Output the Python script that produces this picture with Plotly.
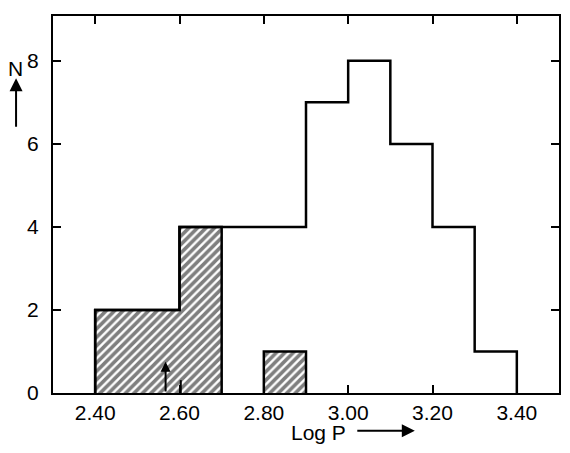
import plotly.graph_objects as go

# Data
bin_edges = [2.40, 2.50, 2.60, 2.70, 2.80, 2.90, 3.00, 3.10, 3.20, 3.30, 3.40]
total_counts = [2, 2, 4, 4, 4, 7, 8, 6, 4, 1]
hatched_counts = [2, 2, 4, 0, 1, 0, 0, 0, 0, 0]
x_ticks = [2.40, 2.60, 2.80, 3.00, 3.20, 3.40]
x_tick_labels = ["2.40", "2.60", "2.80", "3.00", "3.20", "3.40"]
y_ticks = [0, 2, 4, 6, 8]
marker_positions = [2.567, 2.603]
marker_heights = [0.75, 0.31]

font = "Liberation Sans Narrow, Liberation Sans, sans-serif"
centers = [(a + b) / 2 for a, b in zip(bin_edges[:-1], bin_edges[1:])]
width = bin_edges[1] - bin_edges[0]

fig = go.Figure()

# hatched bars (no outline; outline drawn as step line)
fig.add_trace(go.Bar(
    x=centers, y=hatched_counts, width=width,
    marker=dict(color="white", line=dict(width=0),
                pattern=dict(shape="/", fgcolor="black", bgcolor="white",
                             size=6, solidity=0.6)),
    showlegend=False, hoverinfo="skip"))


def step_outline(counts):
    """Outline of the non-zero runs of a histogram, separated by gaps."""
    xs, ys = [], []
    i = 0
    n = len(counts)
    while i < n:
        if counts[i] == 0:
            i += 1
            continue
        xs.append(bin_edges[i]); ys.append(0)
        while i < n and counts[i] != 0:
            xs += [bin_edges[i], bin_edges[i + 1]]
            ys += [counts[i], counts[i]]
            i += 1
        xs += [bin_edges[i], None]
        ys += [0, None]
    return xs, ys


for counts in (hatched_counts, total_counts):
    sx, sy = step_outline(counts)
    fig.add_trace(go.Scatter(x=sx, y=sy, mode="lines",
                             line=dict(color="black", width=2.5),
                             showlegend=False, hoverinfo="skip", cliponaxis=False))

# small markers inside the hatched region
fig.add_annotation(x=marker_positions[0], y=marker_heights[0], ax=marker_positions[0], ay=0,
                   xref="x", yref="y", axref="x", ayref="y", showarrow=True,
                   arrowhead=2, arrowsize=1, arrowwidth=2, arrowcolor="black", text="")
fig.add_shape(type="line", x0=marker_positions[1], x1=marker_positions[1], y0=0, y1=marker_heights[1],
              xref="x", yref="y", line=dict(color="black", width=2))

axis_common = dict(showline=True, linecolor="black", linewidth=2, mirror="ticks",
                   ticks="inside", ticklen=8, tickwidth=2, tickcolor="black",
                   showgrid=False, zeroline=False, automargin=False,
                   tickfont=dict(family=font, size=21, color="black"))

fig.update_xaxes(range=[2.30, 3.50], tickvals=x_ticks, ticktext=x_tick_labels,
                 ticklabelstandoff=0, **axis_common)
fig.update_yaxes(range=[0, 9.08], tickvals=y_ticks, ticklabelstandoff=8, **axis_common)

# axis labels
fig.add_annotation(x=0.524, y=-0.106, xref="paper", yref="paper", text="Log P",
                   xanchor="center", yanchor="middle",
                   showarrow=False, font=dict(family=font, size=21, color="black"))
fig.add_annotation(x=0.715, y=-0.1, xref="paper", yref="paper", text="",
                   showarrow=True, ax=-59, ay=0, arrowhead=2, arrowsize=1.3, arrowwidth=2, arrowcolor="black")
fig.add_annotation(x=-0.075, y=0.862, xref="paper", yref="paper", text="N",
                   xanchor="center", yanchor="middle",
                   showarrow=False, font=dict(family=font, size=21, color="black"))
fig.add_annotation(x=-0.073, y=0.835, xref="paper", yref="paper", text="",
                   showarrow=True, ax=0, ay=50, arrowhead=2, arrowsize=1.3, arrowwidth=2, arrowcolor="black")

fig.update_layout(width=570, height=453, margin=dict(l=53, r=11, t=16, b=60),
                  plot_bgcolor="white", paper_bgcolor="white", bargap=0)

fig.write_html("out.html", config={"responsive": False, "displayModeBar": False},
               post_script="document.body.style.margin='0';document.body.style.overflow='hidden';")
